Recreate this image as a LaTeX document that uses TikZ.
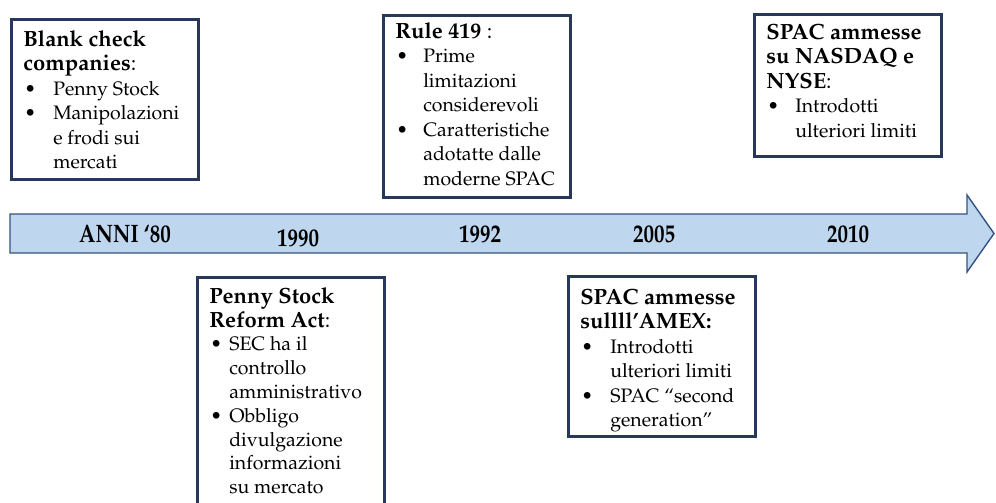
\documentclass[tikz,border=0pt]{standalone}
\usepackage[T1]{fontenc}
\usepackage{mathpazo}
\usepackage{array}

\definecolor{arrowfill}{RGB}{190,214,238}
\definecolor{arrowline}{RGB}{52,82,130}
\definecolor{boxline}{RGB}{40,56,92}

% titolo e punto elenco dei riquadri
\newcommand{\ttl}[1]{\multicolumn{2}{@{}l@{}}{\fontsize{22}{24.5}\selectfont\bfseries #1}}
\newcommand{\blt}{\hspace{1pt}\textbullet}
\newcommand{\evlist}[2]{\makebox[163pt][l]{\begin{tabular}[t]{@{}p{#1}@{}l@{}}#2\end{tabular}}}
\newcommand{\yr}[1]{\scalebox{1}[1.2]{#1}}

\begin{document}
\begin{tikzpicture}[x=1pt,y=1pt]
    \tikzstyle{evbox}=[draw=boxline, line width=2.6pt, fill=white, anchor=north west, inner xsep=12pt, inner ysep=0pt, font=\fontsize{19.5}{24.5}\selectfont]
    \tikzstyle{year}=[anchor=base, font=\fontsize{21}{24}\selectfont\bfseries]
    \clip (0,0) rectangle (996,503);
    % freccia del tempo
    \filldraw[fill=arrowfill, draw=arrowline, line width=1.4pt] (10,289) -- (967,289) -- (967,308) -- (994,269.5) -- (967,231) -- (967,250) -- (10,250) -- cycle;
    \node[year] (y80) at (125,260) {\yr{ANNI `80}};
    \node[year] (y90) at (298,256) {\yr{1990}};
    \node[year] (y92) at (480,260) {\yr{1992}};
    \node[year] (y05) at (654,260) {\yr{2005}};
    \node[year] (y10) at (848,260) {\yr{2010}};
    % riquadri sopra
    \node[evbox, text height=27pt, text depth=133pt] (blank) at (10,485) {\evlist{30pt}{
        \ttl{Blank check}\\
        \ttl{companies{\mdseries :}}\\
        \blt & Penny Stock\\
        \blt & Manipolazioni\\
        & e frodi sui\\
        & mercati}};
    \node[evbox, text height=23pt, text depth=159pt] (rule) at (382,489) {\evlist{28pt}{
        \ttl{Rule 419 {\mdseries :}}\\
        \blt & Prime\\
        & limitazioni\\
        & considerevoli\\
        \blt & Caratteristiche\\
        & adotatte dalle\\
        & moderne SPAC}};
    \node[evbox, text height=25pt, text depth=117pt] (nasdaq) at (753,490) {\evlist{29pt}{
        \ttl{SPAC ammesse}\\
        \ttl{su NASDAQ e}\\
        \ttl{NYSE{\mdseries :}}\\
        \blt & Introdotti\\
        & ulteriori limiti}};
    % riquadri sotto
    \node[evbox, font=\fontsize{19.5}{23.8}\selectfont, text height=26pt, text depth=260pt] (reform) at (196,227) {\evlist{20pt}{
        \ttl{Penny Stock}\\
        \ttl{Reform Act{\mdseries :}}\\
        \blt & SEC ha il\\
        & controllo\\
        & amministrativo\\
        \blt & Obbligo\\
        & divulgazione\\
        & informazioni\\
        & su mercato}};
    \node[evbox, text height=28pt, text depth=132pt] (amex) at (567,228) {\evlist{30pt}{
        \ttl{SPAC ammesse}\\
        \ttl{sullll'AMEX:}\\
        \blt & Introdotti\\
        & ulteriori limiti\\
        \blt & SPAC ``second\\
        & generation''}};
\end{tikzpicture}
\end{document}
